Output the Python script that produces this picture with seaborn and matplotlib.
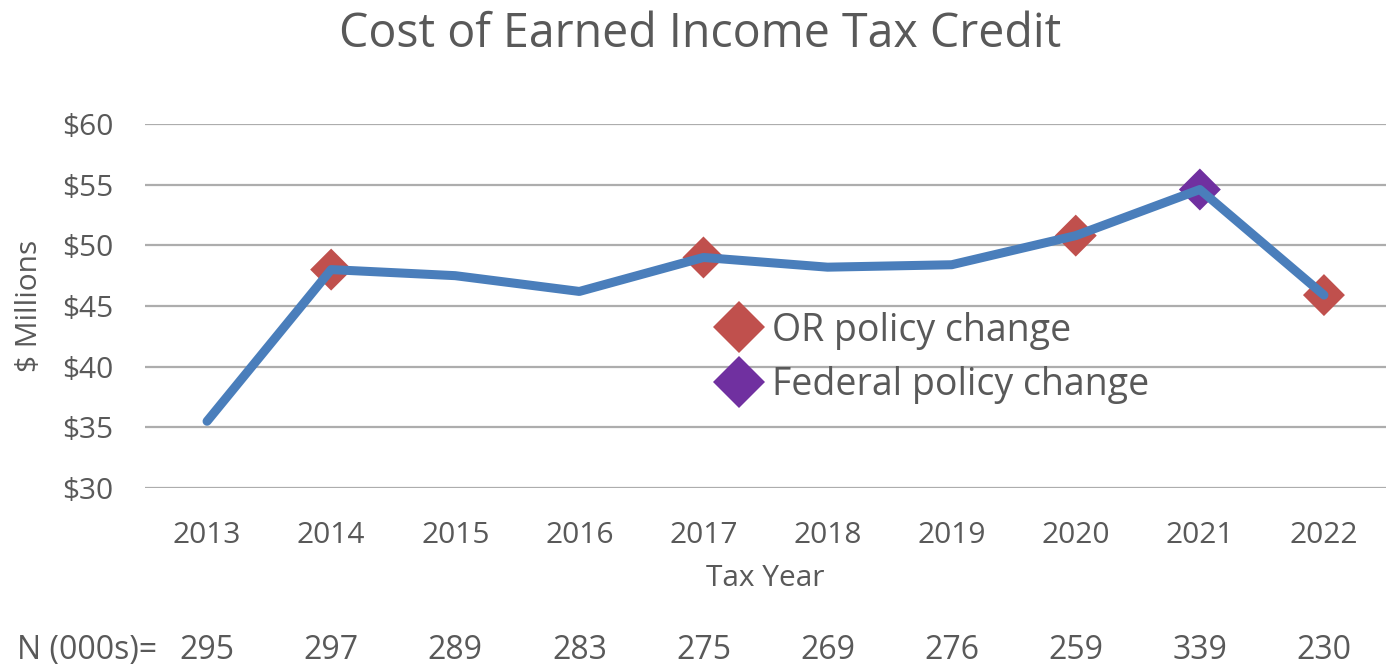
# Cost of Earned Income Tax Credit - line chart with policy change markers
import numpy as np
import pandas as pd
import seaborn as sns
import matplotlib.pyplot as plt

# -------------------------------------------------------
# Data
years = [2013, 2014, 2015, 2016, 2017, 2018, 2019, 2020, 2021, 2022]
cost_millions = [35.5, 48.0, 47.5, 46.2, 49.0, 48.2, 48.4, 50.8, 54.6, 45.9]
n_thousands = [295, 297, 289, 283, 275, 269, 276, 259, 339, 230]
or_change_years = [2014, 2017, 2020, 2022]
federal_change_years = [2021]
y_ticks = [30, 35, 40, 45, 50, 55, 60]

data = pd.DataFrame({'Tax Year': years, 'Cost': cost_millions})
changes = pd.concat([
    data[data['Tax Year'].isin(or_change_years)].assign(Policy='OR policy change'),
    data[data['Tax Year'].isin(federal_change_years)].assign(Policy='Federal policy change'),
])

# -------------------------------------------------------
# Style
sns.set_style('white')
plt.rcParams['font.family'] = ['Open Sans', 'DejaVu Sans']
text_color = '#595959'
grid_color = '#ADADAD'
line_color = '#4A7EBB'
palette = {'OR policy change': '#C0504D', 'Federal policy change': '#7030A0'}

fig = plt.figure(figsize=(13.86, 6.65), dpi=100)
ax = fig.add_axes([145 / 1386, 1 - 488 / 665, 1 - 145 / 1386, (488 - 124) / 665])

# Policy change markers (under the line)
sns.scatterplot(data=changes, x='Tax Year', y='Cost', hue='Policy', palette=palette,
                marker='D', s=457, edgecolor='none', ax=ax, zorder=2)

# Main cost line
sns.lineplot(data=data, x='Tax Year', y='Cost', color=line_color, linewidth=6.5,
             solid_capstyle='round', solid_joinstyle='round', ax=ax, zorder=3)

# Axes setup
ax.set_xlim(years[0] - 0.5, years[-1] + 0.5)
ax.set_ylim(y_ticks[0], y_ticks[-1])
ax.set_xticks(years)
ax.set_xticklabels([str(y) for y in years])
ax.set_yticks(y_ticks)
ax.set_yticklabels(['$%d' % v for v in y_ticks])
ax.tick_params(axis='both', length=0, labelsize=21.5, colors=text_color)
ax.tick_params(axis='x', pad=24)
ax.tick_params(axis='y', pad=23)
ax.grid(axis='y', color=grid_color, linewidth=1.6)
ax.grid(axis='x', visible=False)
ax.set_axisbelow(True)
for spine in ax.spines.values():
    spine.set_visible(False)

ax.set_xlabel('Tax Year', fontsize=21.5, color=text_color, labelpad=10)
ax.set_ylabel('$ Millions', fontsize=21.5, color=text_color, labelpad=13)

fig.suptitle('Cost of Earned Income Tax Credit', fontsize=33.5, color='#595959',
             x=700 / 1386, y=1 - 34 / 665, va='center')

# Legend
handles, labels = ax.get_legend_handles_labels()
ax.legend(handles, labels, frameon=False, loc='center left',
          bbox_to_anchor=((701 - 145) / (1386 - 145), (488 - 358) / 364),
          markerscale=1.25, fontsize=27, labelcolor=text_color,
          handlelength=1.0, handletextpad=0.4, labelspacing=0.45, borderpad=0)

# N (000s) row below the axis
fig.text(17 / 1386, 1 - 650 / 665, 'N (000s)=', fontsize=23, color=text_color,
         ha='left', va='center')
for yr, n in zip(years, n_thousands):
    ax.text(yr, -0.446, str(n), transform=ax.get_xaxis_transform(), fontsize=23,
            color=text_color, ha='center', va='center')

fig.savefig('out.png', dpi=100)
